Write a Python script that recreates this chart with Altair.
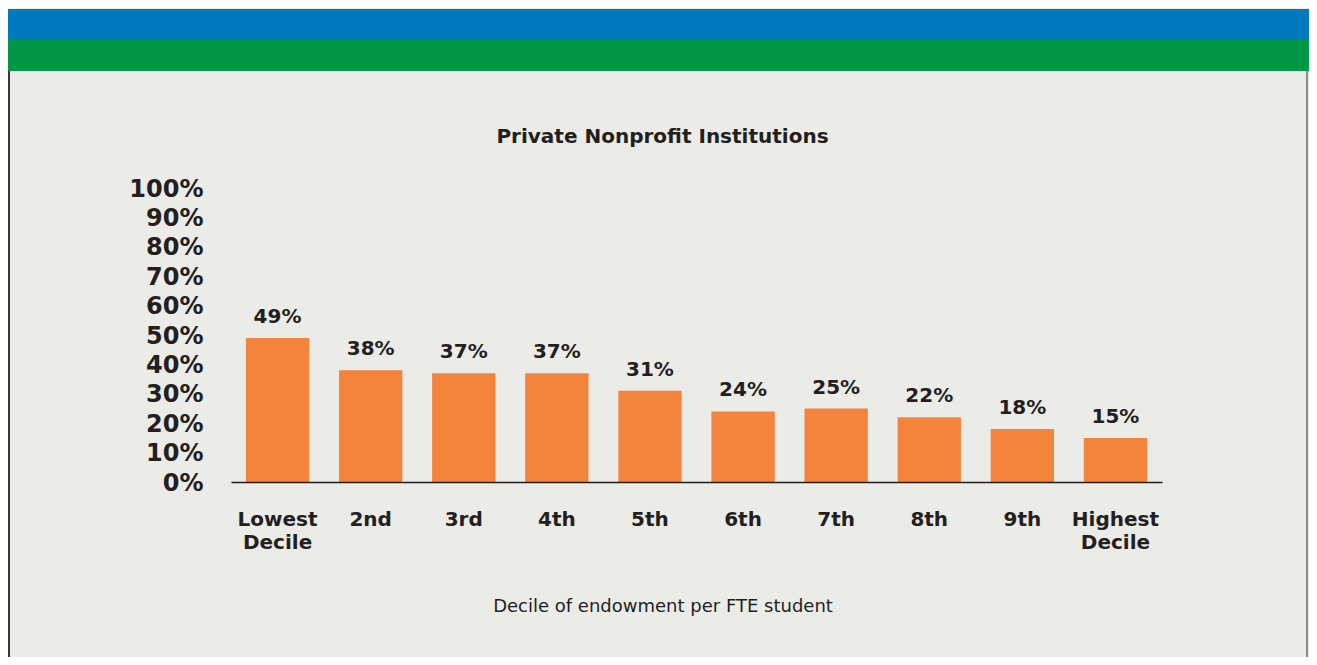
import altair as alt
import pandas as pd

# ---- data ----
categories = ["Lowest Decile", "2nd", "3rd", "4th", "5th", "6th", "7th", "8th", "9th", "Highest Decile"]
values = [49, 38, 37, 37, 31, 24, 25, 22, 18, 15]
y_ticks = [0, 10, 20, 30, 40, 50, 60, 70, 80, 90, 100]
chart_title = "Private Nonprofit Institutions"
x_title = "Decile of endowment per FTE student"

df = pd.DataFrame({"decile": categories, "value": values})

BAR = "#F4833C"
TEXT = "#231F20"
BG = "#EBEBE7"
BLUE = "#0079BF"
GREEN = "#009846"
BOLD = "DejaVu Sans"

PW, PH = 931, 294          # plot area
PAD_L, PAD_T = 223, 180
TOTAL_W, TOTAL_H = 1301, 649
PAD_R = TOTAL_W - PAD_L - PW
PAD_B = TOTAL_H - PAD_T - PH

one = pd.DataFrame({"k": [0]})

blue = alt.Chart(one).mark_rect(color=BLUE).encode(
    x=alt.value(-PAD_L), x2=alt.value(TOTAL_W - PAD_L),
    y=alt.value(-PAD_T + 1), y2=alt.value(-148))
green = alt.Chart(one).mark_rect(color=GREEN).encode(
    x=alt.value(-PAD_L), x2=alt.value(TOTAL_W - PAD_L),
    y=alt.value(-148), y2=alt.value(-117))
left_border = alt.Chart(one).mark_rule(color="#3B3634", strokeWidth=2).encode(
    x=alt.value(-PAD_L + 1), y=alt.value(-117), y2=alt.value(TOTAL_H - PAD_T))
right_border = alt.Chart(one).mark_rule(color="#8C8C8C", strokeWidth=2).encode(
    x=alt.value(TOTAL_W - PAD_L - 2), y=alt.value(-117), y2=alt.value(TOTAL_H - PAD_T))

title_df = pd.DataFrame({"t": [chart_title]})
title = alt.Chart(title_df).mark_text(
    font=BOLD, fontWeight="bold", fontSize=20, color=TEXT,
    align="center", baseline="alphabetic").encode(
    x=alt.value(654.5 - PAD_L), y=alt.value(-45), text="t:N")

x_enc = alt.X("decile:N", sort=categories,
              scale=alt.Scale(paddingInner=0.32, paddingOuter=0.16),
              axis=alt.Axis(title=x_title, labelAngle=0, ticks=False,
                            domainColor=TEXT, domainWidth=1.5, zindex=1,
                            labelFont=BOLD, labelFontWeight="bold", labelFontSize=20,
                            labelColor=TEXT, labelBaseline="top", labelPadding=27,
                            labelLineHeight=23, labelOverlap=False,
                            labelExpr="split(datum.label, ' ')",
                            titleFont="DejaVu Sans", titleFontWeight="normal",
                            titleFontSize=18, titleColor=TEXT,
                            titleX=654.5 - PAD_L, titleY=129, titleAlign="center",
                            titleBaseline="alphabetic", titleAnchor="start"))
y_enc = alt.Y("value:Q", scale=alt.Scale(domain=[0, 100], nice=False),
              axis=alt.Axis(title=None, values=y_ticks, grid=False, ticks=False,
                            domain=False, labelFont=BOLD, labelFontWeight="bold",
                            labelFontSize=24, labelColor=TEXT, labelPadding=28,
                            labelOffset=1, labelOverlap=False, labelSeparation=0,
                            labelBound=False, labelFlush=False,
                            labelExpr="datum.value + '%'"))

bars = alt.Chart(df).mark_bar(color=BAR).encode(x=x_enc, y=y_enc)
labels = alt.Chart(df).transform_calculate(label="datum.value + '%'").mark_text(
    font=BOLD, fontWeight="bold", fontSize=20, color=TEXT,
    baseline="alphabetic", dy=-15).encode(
    x=x_enc, y=y_enc, text="label:N")

chart = alt.layer(blue, green, left_border, right_border, bars, labels, title).properties(
    width=PW, height=PH,
    autosize=alt.AutoSizeParams(type="none"),
    padding={"left": PAD_L, "top": PAD_T, "right": PAD_R, "bottom": PAD_B},
    background=BG,
).configure_view(stroke=None).configure_axisY(labelOverlap=False)

chart.save("out.html", embed_options={"renderer": "svg", "actions": False})
